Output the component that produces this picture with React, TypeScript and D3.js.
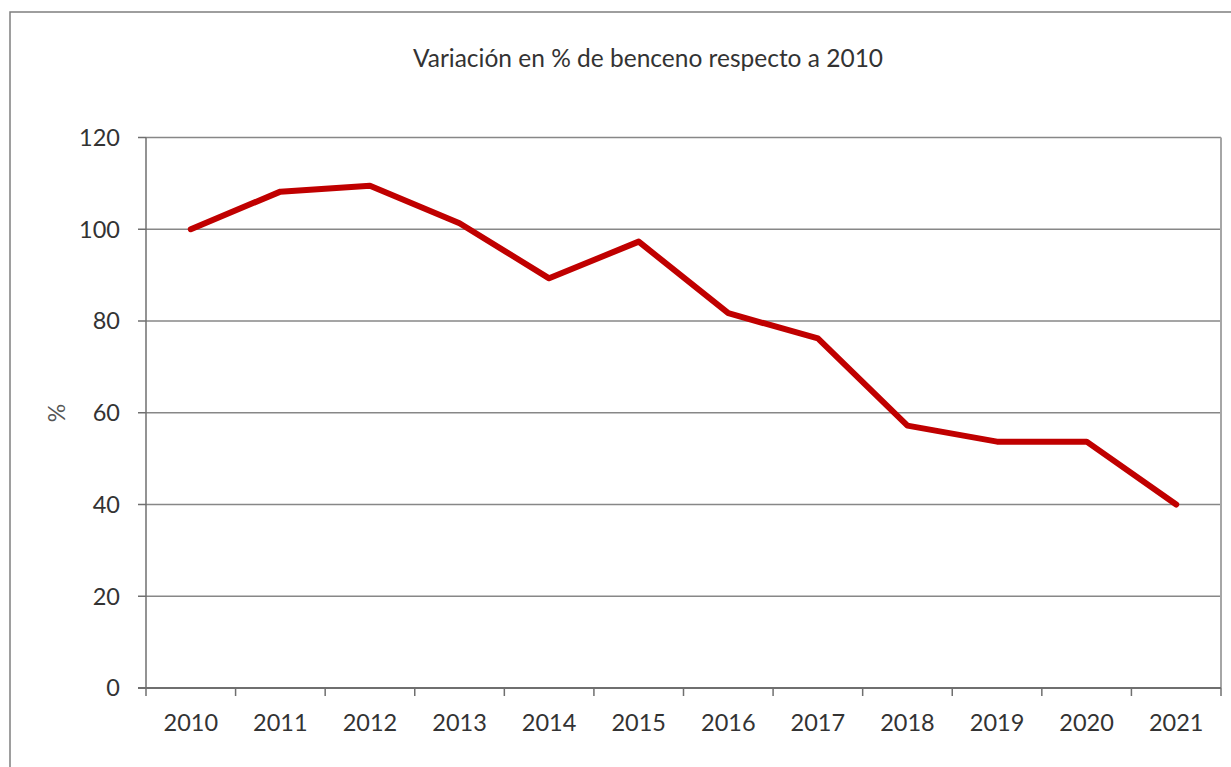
import React, { useRef, useEffect } from 'react';
import * as d3 from 'd3';

const years = ['2010', '2011', '2012', '2013', '2014', '2015', '2016', '2017', '2018', '2019', '2020', '2021'];
const values = [100, 108.2, 109.5, 101.3, 89.3, 97.3, 81.7, 76.2, 57.2, 53.7, 53.7, 40];
const yTicks = [0, 20, 40, 60, 80, 100, 120];

const title = 'Variación en % de benceno respecto a 2010';
const yLabel = '%';

const W = 1231;
const H = 767;
const FONT = 'Lato, "Open Sans", sans-serif';

const App = () => {
  const svgRef = useRef<SVGSVGElement>(null);

  useEffect(() => {
    if (!svgRef.current) return;
    const svg = d3.select(svgRef.current);
    svg.selectAll('*').remove();

    const left = 146, right = 1221, top = 137.5, bottom = 688;

    // outer chart border (cut off at right and bottom)
    svg.append('path')
      .attr('d', `M${W + 5},12 H10 V${H + 5}`)
      .attr('fill', 'none')
      .attr('stroke', '#7f7f7f')
      .attr('stroke-width', 1.5);

    const x = d3.scaleBand().domain(years).range([left, right]);
    const y = d3.scaleLinear().domain([0, 120]).range([bottom, top]);

    // gridlines
    svg.append('g').selectAll('line')
      .data(yTicks.filter(t => t > 0))
      .enter().append('line')
      .attr('x1', left).attr('x2', right)
      .attr('y1', d => y(d)).attr('y2', d => y(d))
      .attr('stroke', '#878787')
      .attr('stroke-width', 1.5);

    // plot right border
    svg.append('line')
      .attr('x1', right).attr('x2', right)
      .attr('y1', top).attr('y2', bottom)
      .attr('stroke', '#a6a6a6')
      .attr('stroke-width', 2);

    // y axis
    const yAxis = svg.append('g');
    yAxis.append('line')
      .attr('x1', left).attr('x2', left)
      .attr('y1', top).attr('y2', bottom + 8)
      .attr('stroke', '#6f6f6f').attr('stroke-width', 1.5);
    yAxis.selectAll('line.tick')
      .data(yTicks).enter().append('line')
      .attr('class', 'tick')
      .attr('x1', left - 8).attr('x2', left)
      .attr('y1', d => y(d)).attr('y2', d => y(d))
      .attr('stroke', '#6f6f6f').attr('stroke-width', 1.5);
    yAxis.selectAll('text')
      .data(yTicks).enter().append('text')
      .attr('x', 120)
      .attr('y', d => y(d))
      .attr('dy', '0.36em')
      .attr('text-anchor', 'end')
      .attr('font-family', FONT)
      .attr('font-size', 23.5)
      .attr('fill', '#333')
      .text(d => d);

    // x axis
    const xAxis = svg.append('g');
    xAxis.append('line')
      .attr('x1', left - 8).attr('x2', right)
      .attr('y1', bottom).attr('y2', bottom)
      .attr('stroke', '#6f6f6f').attr('stroke-width', 2);
    const bounds = years.map(d => x(d) as number).concat([right]);
    xAxis.selectAll('line.tick')
      .data(bounds.slice(1)).enter().append('line')
      .attr('class', 'tick')
      .attr('x1', d => d).attr('x2', d => d)
      .attr('y1', bottom).attr('y2', bottom + 8)
      .attr('stroke', '#6f6f6f').attr('stroke-width', 1.5);
    xAxis.selectAll('text')
      .data(years).enter().append('text')
      .attr('x', d => (x(d) as number) + x.bandwidth() / 2)
      .attr('y', 731)
      .attr('text-anchor', 'middle')
      .attr('font-family', FONT)
      .attr('font-size', 23.5)
      .attr('fill', '#333')
      .text(d => d);

    // series line
    const line = d3.line<number>()
      .x((_, i) => (x(years[i]) as number) + x.bandwidth() / 2)
      .y(d => y(d));
    svg.append('path')
      .datum(values)
      .attr('d', line)
      .attr('fill', 'none')
      .attr('stroke', '#c00000')
      .attr('stroke-width', 6)
      .attr('stroke-linejoin', 'round')
      .attr('stroke-linecap', 'round');

    // title
    svg.append('text')
      .attr('x', 648)
      .attr('y', 67)
      .attr('text-anchor', 'middle')
      .attr('font-family', FONT)
      .attr('font-size', 24.5)
      .attr('fill', '#333')
      .text(title);

    // y label
    svg.append('text')
      .attr('transform', 'translate(65,413) rotate(-90)')
      .attr('text-anchor', 'middle')
      .attr('font-family', FONT)
      .attr('font-size', 23)
      .attr('fill', '#555')
      .text(yLabel);
  }, []);

  return (
    <svg
      ref={svgRef}
      width={W}
      height={H}
      style={{ position: 'absolute', left: 0, top: 0, background: '#fff' }}
    />
  );
};

export default App;
